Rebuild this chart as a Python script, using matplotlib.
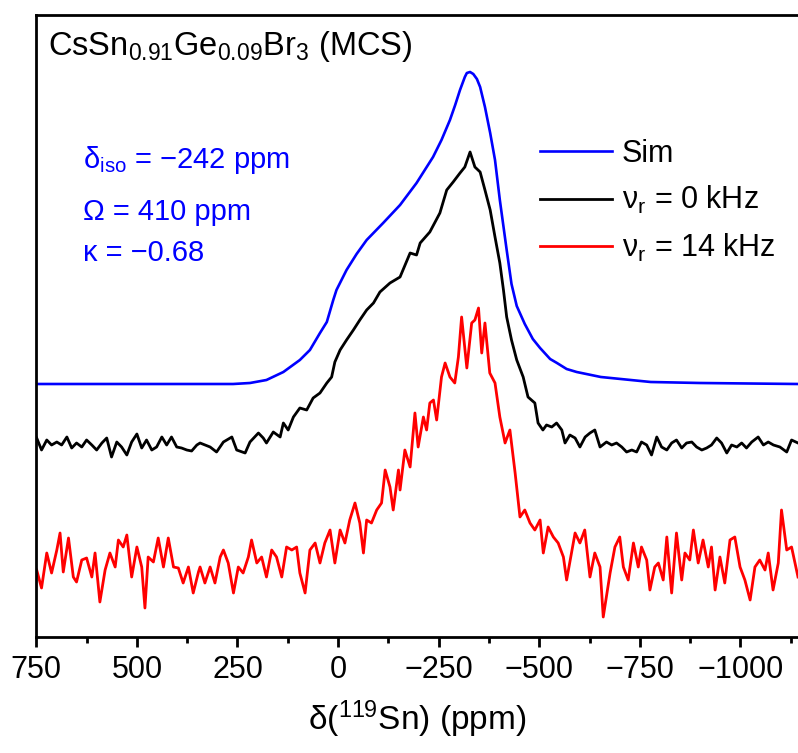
import numpy as np
import matplotlib
matplotlib.use("Agg")
import matplotlib.pyplot as plt
from matplotlib.ticker import MultipleLocator

plt.rcParams["font.family"] = ["Liberation Sans", "DejaVu Sans"]
plt.rcParams["mathtext.fontset"] = "custom"
plt.rcParams["mathtext.rm"] = "Liberation Sans"
plt.rcParams["mathtext.it"] = "Liberation Sans:italic"
plt.rcParams["mathtext.bf"] = "Liberation Sans:bold"

# ---- 119Sn spectra (chemical shift in ppm, intensity in a.u.) ----
sim_ppm = [750, 468, 261, 219, 178, 136, 95, 70, 45, 28, 20, 12, 4, -11, -21, -46,
           -71, -112, -154, -195, -236, -257, -278, -291, -303, -315, -320, -328,
           -336, -345, -353, -365, -378, -390, -402, -419, -431, -444, -464, -484,
           -502, -527, -544, -568, -593, -653, -777, -900, -1143]
sim_int = [0, 0, 0, 1, 4, 12, 24, 34, 51, 62, 73, 84, 94, 106, 114, 130,
           144, 161, 179, 201, 227, 244, 264, 279, 294, 307, 311, 312,
           310, 305, 297, 277, 251, 224, 184, 134, 100, 78, 60, 45,
           36, 25, 21, 15, 12, 7, 2, 1, 0]

static_ppm = [749, 737, 724, 712, 699, 687, 674, 662, 650, 637, 625, 612, 600, 587,
              575, 563, 550, 538, 525, 513, 500, 488, 476, 463, 451, 438, 426, 414,
              401, 389, 376, 364, 351,
              343, 318, 302, 285, 264, 252, 231, 219, 198, 186, 178, 161, 144, 136,
              124, 111, 95, 78, 62, 45, 28, 16, 8, -5, -21, -38, -54, -71, -88, -104,
              -129, -154, -179, -195, -204, -228, -253, -270, -286, -303, -315, -328,
              -340, -353, -365, -378, -390, -402,
              -411, -419, -431, -444, -460, -472, -489, -497, -509, -518, -531, -543,
              -556, -564, -576, -589, -601, -614, -626, -638, -651,
              -667, -680, -692, -705, -717, -730, -742, -754, -767, -779, -792, -804,
              -817, -829, -841, -854, -866, -879, -891, -904, -916, -928, -941, -953,
              -966, -978, -991, -1003, -1015, -1028, -1044, -1057, -1069, -1082,
              -1098, -1115, -1127, -1143]
static_int = [5, -7, 3, -2, 1, -2, 6, -5, 0, -4, 3, -2, -7, 0,
              5, -14, 1, -4, -12, 1, 9, -5, 3, -7, -4, 6, -2, 6,
              -4, -5, -7, -8, -2,
              0, -4, -9, 1, 6, -7, -10, 1, 10, 5, 0, 11, 6, 20,
              13, 26, 35, 33, 45, 50, 60, 66, 81, 93, 103, 113, 123, 133, 140, 151,
              160, 166, 190, 188, 200, 211, 230, 253, 261, 270, 276, 291,
              276, 271, 253, 233, 206, 180,
              153, 126, 103, 83, 66, 46, 40, 20, 13, 18, 16, 20,
              13, 0, 8, 5, -4, 6, 10, 13, -4,
              1, -2, 0, -4, -9, -7, -9, 1, -2, -12, 6, -4,
              -7, 0, 3, -5, 0, 1, -4, -7, -5, -2, 5, 0,
              -10, -2, -4, 0, -5, 1, 6, -2, 1, -2,
              -4, -9, 3, 0]

mas_ppm = [749, 737, 724, 712, 699, 691, 683, 670, 658, 650, 637, 625, 612, 604,
           592, 579, 567, 554, 546, 534, 525, 513, 500, 488, 480, 472, 459, 447,
           434, 422, 409, 397, 385, 372, 360, 347,
           343, 331, 318, 306, 293, 285, 273, 260, 248, 236, 223, 215, 202, 190,
           178, 165, 153, 140, 128, 115, 103, 95, 82, 70, 57, 45, 33, 20, 8, -5,
           -17, -29, -42, -54, -63, -71, -83, -96, -108, -117, -129, -137, -150,
           -154, -166, -179, -191, -199, -212, -220, -228, -237, -245, -257, -266,
           -278, -290, -299, -307, -320, -332, -340, -349, -357, -365, -377, -390,
           -402, -415, -427, -440, -452, -464, -477, -489, -502, -510, -522, -535,
           -547, -560, -568, -580, -589, -601, -613, -626, -638, -651,
           -659, -676, -688, -700, -709, -721, -734, -746, -754, -767, -775, -787,
           -796, -808, -817, -829, -841, -854, -862, -874, -883, -895, -907, -920,
           -928, -937, -949, -961, -974, -986, -999, -1011, -1024, -1036, -1048,
           -1061, -1069, -1081, -1094, -1102, -1115, -1127, -1143]
mas_int = [0, -18, 17, -3, 20, 37, -2, 32, -7, -12, 10, 12, -7, 17,
           -32, 0, 17, 3, 30, 23, 35, -7, 23, 3, -38, 13, 8, 32,
           3, 32, 3, 2, -13, 3, -23, -2,
           3, -13, 3, -13, 13, 20, 7, -23, 3, -3, 13, 30, 7, 13,
           -7, 20, 13, -7, 23, 20, 23, -3, -23, 20, 27, 7, 27, 40, 7, 40,
           27, 50, 67, 47, 17, 50, 47, 60, 67, 100, 83, 60, 100,
           80, 120, 103, 157, 123, 153, 140, 167, 170, 150, 193, 207,
           193, 187, 213, 253, 202, 247, 250, 262, 217, 247, 197, 187,
           153, 127, 140, 97, 53, 60, 47, 40, 50, 17, 43, 33,
           27, 13, -10, 17, 37, 27, 40, -7, 17, 3,
           -47, -3, 23, 33, 3, -10, 27, 3, 23, 10, -20, 3,
           7, -10, 33, -23, 37, -10, 17, 10, 40, 7, 30, 3,
           23, -20, 13, -13, 30, 33, 3, -10, -30, 3, 10,
           0, 17, -20, 7, 60, 20, 23, -7]

# vertical stacking of the three traces
sim_offset = 253
static_offset = 194
mas_offset = 67

labels = ["Sim", r"ν$_\mathrm{r}$ = 0 kHz", r"ν$_\mathrm{r}$ = 14 kHz"]
colors = ["#0000FF", "#000000", "#FF0000"]

fig = plt.figure(figsize=(7.98, 7.53), dpi=100)
ax = fig.add_axes([36.3 / 798, 116 / 753, (798 - 36.3) / 798, 622 / 753])

l_mas, = ax.plot(mas_ppm, np.array(mas_int) + mas_offset, color=colors[2], lw=2.0,
                 solid_joinstyle="round")
l_sta, = ax.plot(static_ppm, np.array(static_int) + static_offset, color=colors[1],
                 lw=2.0, solid_joinstyle="round")
l_sim, = ax.plot(sim_ppm, np.array(sim_int) + sim_offset, color=colors[0], lw=1.9,
                 solid_joinstyle="round")

ax.set_xlim(750, -1143)
ax.set_ylim(0, 622)
ax.set_yticks([])
ax.xaxis.set_major_locator(MultipleLocator(250))
ax.xaxis.set_minor_locator(MultipleLocator(125))
ax.tick_params(axis="x", which="major", direction="out", length=7, width=2,
               labelsize=22, pad=6)
ax.tick_params(axis="x", which="minor", direction="out", length=4, width=2)
for side in ("top", "left", "bottom"):
    ax.spines[side].set_linewidth(2)
ax.spines["right"].set_visible(False)

ax.set_xlabel(r"δ($^{119}$Sn) (ppm)", fontsize=24, labelpad=10)

fig.text(48 / 798, 1 - 55 / 753, r"CsSn$_{0.91}$Ge$_{0.09}$Br$_3$ (MCS)",
         fontsize=23.5, va="baseline", ha="left")

params = [r"δ$_\mathrm{iso}$ = −242 ppm", "Ω = 410 ppm", "κ = −0.68"]
for txt, base in zip(params, [168, 220, 261]):
    fig.text(83 / 798, 1 - base / 753, txt, fontsize=21, color=colors[0],
             va="baseline", ha="left")

ax.legend([l_sim, l_sta, l_mas], labels, loc="upper left",
          bbox_to_anchor=(540 / 798, 1 - 139 / 753), bbox_transform=fig.transFigure,
          frameon=False, fontsize=22, handlelength=2.35, handletextpad=0.32,
          labelspacing=0.5, borderpad=0, borderaxespad=0)

fig.savefig("out.png", dpi=100)
